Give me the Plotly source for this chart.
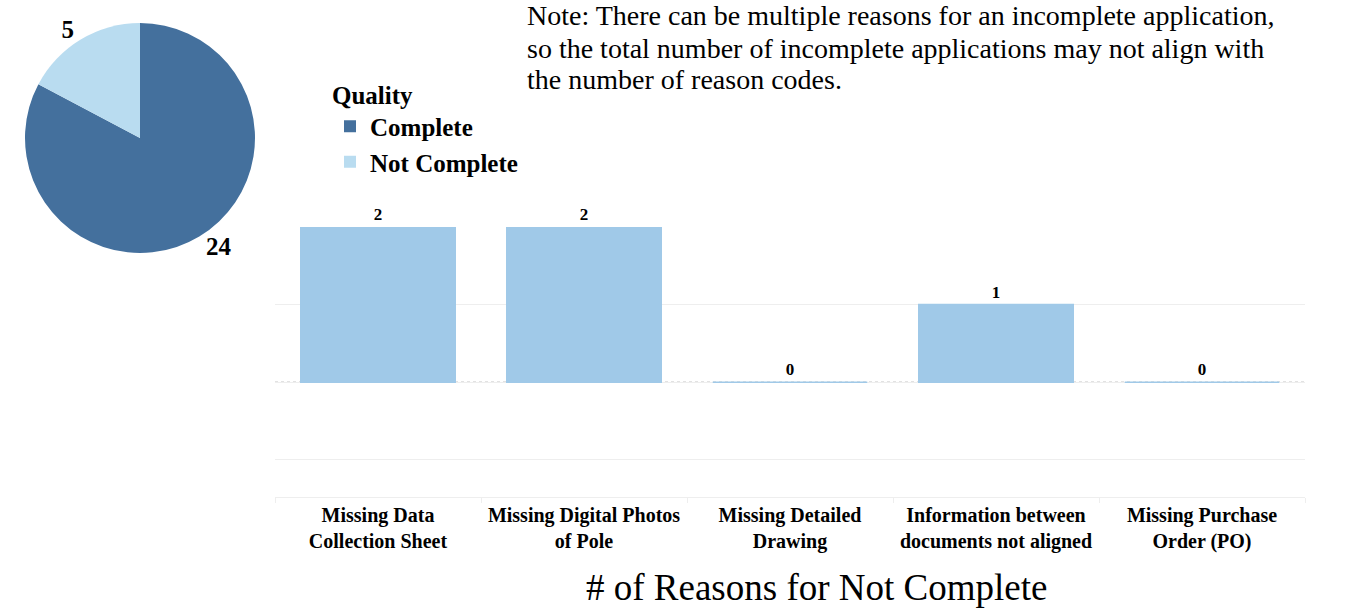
import plotly.graph_objects as go

# pie data
quality_labels = ["Complete", "Not Complete"]
quality_counts = [24, 5]
quality_colors = ["#44709d", "#b9dcf0"]

# bar data
reasons = [
    "Missing Data<br>Collection Sheet",
    "Missing Digital Photos<br>of Pole",
    "Missing Detailed<br>Drawing",
    "Information between<br>documents not aligned",
    "Missing Purchase<br>Order (PO)",
]
reason_counts = [2, 2, 0, 1, 0]

note_lines = [
    "Note: There can be multiple reasons for an incomplete application,",
    "so the total number of incomplete applications may not align with",
    "the number of reason codes.",
]

SERIF = "Liberation Serif, Times New Roman, serif"
W, H = 1348, 608

fig = go.Figure()

fig.add_trace(go.Pie(
    labels=quality_labels,
    values=quality_counts,
    marker=dict(colors=quality_colors),
    sort=False,
    direction="clockwise",
    rotation=0,
    textinfo="value",
    textposition="outside",
    textfont=dict(family=SERIF, size=25, color="black", weight="bold"),
    domain=dict(x=[25 / W, 255 / W], y=[1 - 253 / H, 1 - 23 / H]),
    showlegend=True,
    hoverinfo="label+value",
))

fig.add_trace(go.Bar(
    x=reasons,
    y=reason_counts,
    marker=dict(color="#a0c9e8", line=dict(color="#a0c9e8", width=1.5)),
    text=reason_counts,
    textposition="outside",
    cliponaxis=False,
    textfont=dict(family=SERIF, size=17, color="black", weight="bold"),
    showlegend=False,
    xaxis="x",
    yaxis="y",
))

annotations = []
for i, line in enumerate(note_lines):
    annotations.append(dict(
        text=line, xref="paper", yref="paper",
        x=525 / W, y=1 - (16 + 32 * i) / H, xanchor="left", yanchor="middle",
        showarrow=False, align="left",
        font=dict(family=SERIF, size=28, color="black")))
annotations.append(dict(
    text="# of Reasons for Not Complete", xref="paper", yref="paper",
    x=816 / W, y=1 - 587 / H, xanchor="center", yanchor="middle",
    showarrow=False,
    font=dict(family=SERIF, size=37, color="black")))

fig.update_layout(
    width=W, height=H,
    margin=dict(l=0, r=0, t=0, b=0),
    paper_bgcolor="white",
    plot_bgcolor="white",
    font=dict(family=SERIF, color="black"),
    bargap=0.25,
    legend=dict(
        title=dict(text="Quality", font=dict(family=SERIF, size=25, weight="bold")),
        font=dict(family=SERIF, size=25, weight="bold"),
        x=330 / W, y=1 - 71 / H, xanchor="left", yanchor="top",
        itemsizing="constant", tracegroupgap=0,
        bgcolor="rgba(0,0,0,0)",
    ),
    xaxis=dict(
        domain=[275 / W, 1305 / W],
        anchor="y",
        showgrid=False,
        showline=True, linecolor="#eeeeee", linewidth=1,
        ticks="outside", tickson="boundaries", ticklen=5, tickcolor="#eeeeee",
        tickfont=dict(family=SERIF, size=20, weight="bold"),
        tickangle=0,
    ),
    yaxis=dict(
        domain=[1 - 497 / H, 1 - 227 / H],
        range=[-1.48, 2],
        tickvals=[-1, 0, 1, 2],
        showticklabels=False,
        showgrid=True, gridcolor="#eeeeee", gridwidth=1,
        zeroline=False,
    ),
    shapes=[dict(
        type="line", xref="x domain", yref="y",
        x0=0, x1=1, y0=0, y1=0,
        line=dict(color="#aaaaaa", width=1, dash="dot"),
        layer="below",
    )],
    annotations=annotations,
)

# page body has a default 8px margin; drop it so the figure sits at the window corner
fig.write_html("out.html", config={"displayModeBar": False},
               post_script="document.body.style.margin='0';")
